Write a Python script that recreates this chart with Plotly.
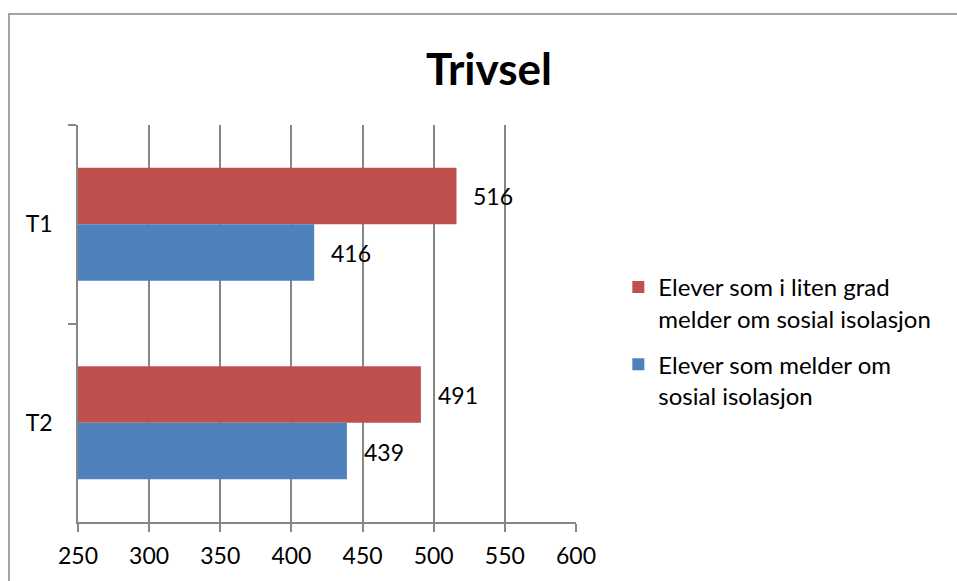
import plotly.graph_objects as go

categories = ["T1", "T2"]
red_name = "Elever som i liten grad<br>melder om sosial isolasjon"
blue_name = "Elever som melder om<br>sosial isolasjon"
red_values = [516, 491]
blue_values = [416, 439]
x_ticks = [250, 300, 350, 400, 450, 500, 550, 600]

RED = "#C0504D"
BLUE = "#4F81BD"
GRID = "#868686"
FONT = "Lato, 'Open Sans', sans-serif"

fig = go.Figure()
fig.add_trace(go.Bar(y=categories, x=red_values, orientation="h", name=red_name,
                     legendgroup="a", marker=dict(color=RED, line=dict(width=0))))
fig.add_trace(go.Bar(y=categories, x=blue_values, orientation="h", name=blue_name,
                     legendgroup="b", marker=dict(color=BLUE, line=dict(width=0))))

annotations = []
for i, c in enumerate(categories):
    annotations.append(dict(x=red_values[i], y=c, yshift=28, text=str(red_values[i]),
                            xanchor="left", xshift=15, showarrow=False,
                            font=dict(size=23, color="black", family=FONT)))
    annotations.append(dict(x=blue_values[i], y=c, yshift=-29, text=str(blue_values[i]),
                            xanchor="left", xshift=15, showarrow=False,
                            font=dict(size=23, color="black", family=FONT)))

W, H = 957, 581
fig.update_layout(
    width=W, height=H,
    margin=dict(l=78, r=W - 576, t=125, b=H - 522, autoexpand=False),
    paper_bgcolor="white", plot_bgcolor="white",
    font=dict(family=FONT, size=23, color="black"),
    title=dict(text="<b>Trivsel</b>", x=(489 - 78) / 498, xref="paper", xanchor="center",
               y=1 - 70 / H, yanchor="middle", font=dict(size=44, family=FONT)),
    barmode="group", bargap=0.43, bargroupgap=0,
    showlegend=True,
    legend=dict(x=1.085, y=0.455, xanchor="left", yanchor="middle",
                font=dict(size=24, family=FONT), tracegroupgap=12,
                traceorder="grouped", valign="top",
                itemsizing="constant", bgcolor="rgba(0,0,0,0)"),
    annotations=annotations,
    xaxis=dict(range=[250, 600], tickvals=x_ticks, ticktext=[str(v) for v in x_ticks],
               showgrid=True, gridcolor=GRID, gridwidth=1.5,
               showline=True, linecolor=GRID, linewidth=1.5,
               ticks="outside", ticklen=8, tickcolor=GRID, tickwidth=1.5,
               zeroline=False, fixedrange=True, ticklabelstandoff=5, automargin=False),
    yaxis=dict(categoryorder="array", categoryarray=categories, autorange="reversed",
               showgrid=False, showline=True, linecolor=GRID, linewidth=1.5,
               ticks="outside", ticklen=8, tickcolor=GRID, tickwidth=1.5,
               tickson="boundaries", ticklabelstandoff=19, fixedrange=True, automargin=False),
    shapes=[dict(type="rect", xref="paper", yref="paper",
                 x0=(9 - 78) / 498, x1=(990 - 78) / 498,
                 y0=-(640 - 522) / 397, y1=1 + (125 - 14) / 397,
                 line=dict(color=GRID, width=1.5), fillcolor="rgba(0,0,0,0)", layer="below")],
)

fig.write_html("out.html", config={"displayModeBar": False},
               post_script="document.body.style.margin='0';document.body.style.overflow='hidden';")
